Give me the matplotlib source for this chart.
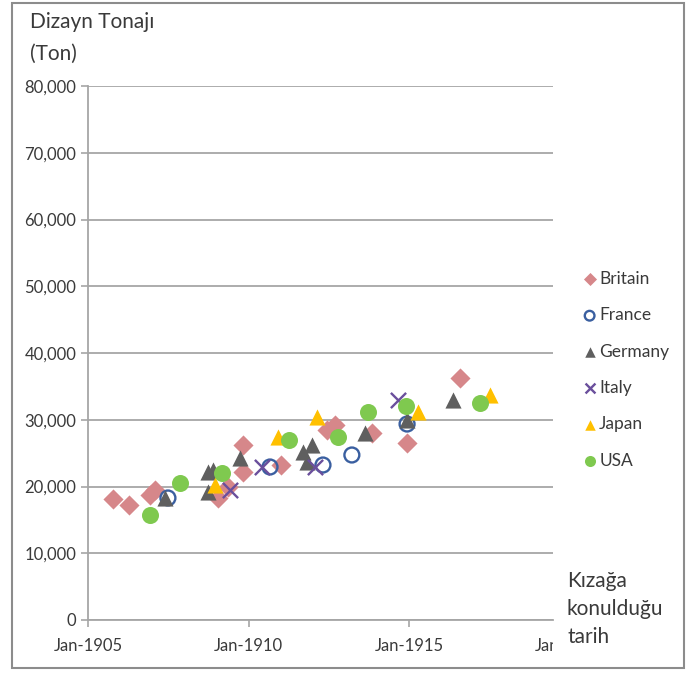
import matplotlib
matplotlib.use("Agg")
import matplotlib.pyplot as plt
from matplotlib.patches import Rectangle
from matplotlib.transforms import Bbox

# ------------ data (laid-down date as decimal year, design tonnage) ------------

britain_x = [1905.78, 1906.28, 1906.93, 1907.09, 1909.05, 1909.35, 1909.83, 1909.83,
             1911.00, 1912.45, 1912.70, 1913.85, 1914.94, 1916.59]
britain_y = [18130, 17230, 18730, 19480, 18280, 19900, 22170, 26220,
             23220, 28460, 29210, 28010, 26520, 36250]

france_x = [1907.49, 1910.67, 1912.32, 1913.22, 1914.94]
france_y = [18280, 22920, 23220, 24720, 29360]

germany_x = [1907.40, 1908.74, 1908.90, 1908.74, 1909.74, 1911.70, 1911.98,
             1911.82, 1913.63, 1914.94, 1916.37]
germany_y = [18280, 22170, 22470, 19180, 24270, 25170, 26220,
             23670, 28010, 29900, 32960]

italy_x = [1909.42, 1910.42, 1912.07, 1914.66]
italy_y = [19480, 22920, 22920, 32960]

japan_x = [1908.96, 1910.92, 1912.13, 1915.28, 1917.52]
japan_y = [20220, 27420, 30410, 31160, 33710]

usa_x = [1906.93, 1907.87, 1909.17, 1911.25, 1912.79, 1913.72, 1914.90, 1917.21]
usa_y = [15730, 20520, 22020, 26970, 27420, 31160, 32100, 32510]

xtick_pos = [1905, 1910, 1915]
xtick_labels = ["Jan-1905", "Jan-1910", "Jan-1915"]
yticks = list(range(0, 80001, 10000))

# ------------ plotting ------------

plt.rcParams['font.family'] = ['Lato', 'DejaVu Sans']
text_col = '#3a3a3a'
grid_col = '#a6a6a6'

fig = plt.figure(figsize=(6.91, 6.73), dpi=100)
ax = fig.add_axes([88/691, 1 - 620/673, (553-88)/691, (620-86)/673])

ax.scatter(britain_x, britain_y, marker='D', s=105, c='#d6878a', linewidths=0, label='Britain', zorder=3)
ax.scatter(france_x, france_y, marker='o', s=115, facecolors='none', edgecolors='#3a5fa0', linewidths=1.7, label='France', zorder=3)
ax.scatter(germany_x, germany_y, marker='^', s=135, c='#5f5f5f', linewidths=0, label='Germany', zorder=3)
ax.scatter(italy_x, italy_y, marker='x', s=120, c='#6a4f9c', linewidths=1.7, label='Italy', zorder=3)
ax.scatter(japan_x, japan_y, marker='^', s=135, c='#ffc000', linewidths=0, label='Japan', zorder=3)
ax.scatter(usa_x, usa_y, marker='o', s=150, c='#7fc94f', linewidths=0, label='USA', zorder=3)

ax.set_xlim(1905, 1905 + (553 - 88) / 32.1)
ax.set_ylim(0, 80000)
ax.set_xticks(xtick_pos)
ax.set_xticklabels(xtick_labels)
ax.set_yticks(yticks)
ax.set_yticklabels([f"{v:,}" for v in yticks])
ax.tick_params(axis='both', colors=grid_col, labelcolor=text_col, labelsize=12, length=5, width=1.2)
ax.tick_params(axis='x', pad=8)
ax.grid(axis='y', color=grid_col, linewidth=1.3)
ax.set_axisbelow(True)
for side in ['top', 'right']:
    ax.spines[side].set_visible(False)
ax.spines['left'].set_color(grid_col)
ax.spines['bottom'].set_color(grid_col)
ax.spines['left'].set_linewidth(1.3)
ax.spines['bottom'].set_linewidth(1.3)

# the Jan-1920 label, cut off at the edge of the plot area
t = ax.text(1920, -0.034, "Jan-1920", transform=ax.get_xaxis_transform(),
            ha='center', va='top', fontsize=12, color=text_col)
t.set_clip_box(Bbox.from_extents(0, 0, 553, 673))
t.set_clip_on(True)

# axis titles
fig.text(30/691, 1 - 22/673, "Dizayn Tonajı", fontsize=15, color=text_col, va='center')
fig.text(30/691, 1 - 54/673, "(Ton)", fontsize=15, color=text_col, va='center')
fig.text(567/691, 1 - 609/673, "Kızağa\nkonulduğu\ntarih", fontsize=15, color=text_col,
         va='center', ha='left', linespacing=1.5)

leg = ax.legend(loc='upper left', bbox_to_anchor=(574/691, 1 - 264/673), bbox_transform=fig.transFigure,
                frameon=False, fontsize=12.5, labelspacing=1.17, handletextpad=0.05,
                markerscale=0.65, handlelength=1.0, borderaxespad=0)
for txt in leg.get_texts():
    txt.set_color(text_col)

# outer frame
fig.patches.append(Rectangle((12/691, 1 - 668/673), (684-12)/691, (668-3)/673,
                             transform=fig.transFigure, fill=False, edgecolor='#8c8c8c', linewidth=1.5))

fig.savefig("out.png", dpi=100)
